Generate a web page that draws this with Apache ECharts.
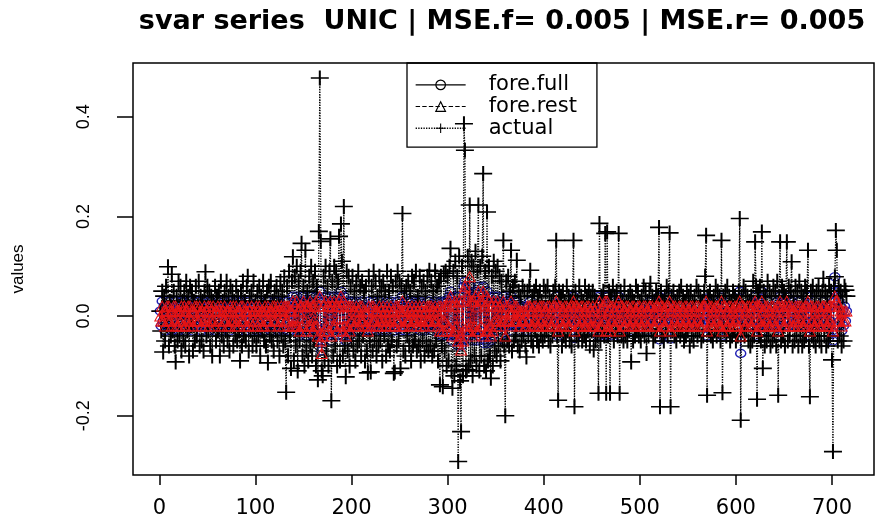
<!DOCTYPE html>
<html>
<head>
<meta charset="utf-8">
<script src="https://cdn.jsdelivr.net/npm/echarts@6/dist/echarts.min.js"></script>
<style>html,body{margin:0;padding:0;background:#fff}#c{width:875px;height:522px}</style>
</head>
<body>
<div id="c"></div>
<script>
// ---- data (index 1..715) ----
const seriesNames = ['fore.full', 'fore.rest', 'actual'];
const xTicks = [0, 100, 200, 300, 400, 500, 600, 700];
const yTicks = [-0.2, 0.0, 0.2, 0.4];

const actual = [
 .01,-.03,.05,-.072,.04,-.05,.06,-.02,.099,-.06,.03,-.04,.084,-.03,.05,-.06,-.092,.04,-.05,.07,
 -.04,.06,-.07,.03,-.05,.05,-.06,.07,-.03,.04,-.08,.06,-.02,.05,-.07,.03,-.05,.06,-.04,.02,
 .07,-.06,.04,-.05,.03,-.07,.05,.089,-.04,.06,-.03,.05,-.06,.04,-.08,.03,-.02,.06,-.05,.04,
 -.03,.05,-.08,.07,-.04,.03,-.06,.05,-.03,.07,-.05,.04,-.07,.06,-.02,.05,-.06,.03,-.04,.06,
 -.05,.04,-.03,-.09,.05,-.06,.07,-.04,.03,-.05,.06,.08,-.07,.04,-.03,.05,-.06,.07,-.04,.03,
 -.06,.05,-.04,.06,-.08,.04,-.03,.07,-.05,.03,-.06,.05,-.094,.06,-.04,.07,-.05,.03,-.07,.05,
 -.03,.06,-.05,.04,-.08,.07,-.04,.05,-.06,.079,-.05,-.153,.06,-.08,.09,-.04,-.105,.07,.119,-.09,
 .08,-.06,.1,-.11,.07,-.05,.09,.146,-.08,.06,-.1,.132,-.07,.05,-.09,.08,-.06,.1,-.08,.07,
 -.05,.09,-.1,.06,-.128,.17,.478,.15,-.11,-.12,.08,-.09,.1,-.07,.06,-.1,.09,.155,-.17,.07,
 -.08,.1,-.06,.09,-.1,.07,.16,-.09,.185,.11,-.08,.22,-.06,-.122,.09,-.07,.08,-.1,.06,-.05,
 .08,-.07,.05,-.09,.07,-.06,.09,-.05,.06,-.08,.07,-.04,.05,-.09,.06,-.07,-.114,.08,-.05,-.112,
 .06,-.07,.09,-.05,.07,-.08,.04,-.06,.08,-.05,.06,-.09,.07,-.04,.05,-.08,.09,-.06,.05,-.07,
 .08,-.05,.06,-.115,-.112,.07,-.06,.09,-.05,.07,-.105,.06,.206,-.07,.05,-.08,.06,-.04,.07,-.06,
 .05,-.09,.08,-.06,.07,-.05,.09,-.07,.04,-.06,.08,-.09,.06,-.05,.07,-.08,.05,-.06,.08,-.07,
 .092,-.06,.07,-.08,.05,-.07,.09,-.05,.06,-.09,.07,-.138,.08,-.06,-.142,.086,-.07,.09,-.1,.08,
 -.09,.1,.136,-.11,-.145,.09,-.12,.11,-.1,.08,-.292,.12,-.13,-.232,.1,-.12,.386,.333,-.11,-.108,
 .12,-.1,.223,-.09,.11,-.12,.1,-.08,.13,-.1,.09,.223,-.11,.1,-.08,.12,.286,-.1,.09,-.11,
 .209,-.09,.1,-.08,-.125,.08,-.1,.11,-.07,.09,-.08,.1,-.06,.08,-.09,.07,-.05,.152,-.06,-.2,
 .07,-.05,.08,-.06,.05,.132,-.07,.06,-.05,.07,-.04,.112,-.06,.05,-.07,.04,-.05,.06,-.04,.05,
 -.06,-.082,.05,-.04,.06,.092,-.05,.04,-.06,.05,-.03,.06,-.05,.04,-.06,.05,-.04,.03,-.05,.06,
 -.04,.05,-.03,.06,-.05,.04,-.06,.03,-.04,.05,-.03,.06,.152,-.04,-.169,.05,-.03,.04,-.06,.05,
 -.04,.03,-.05,.06,-.03,.04,-.05,.03,-.06,.04,.152,-.182,.05,-.04,.03,-.05,.06,-.03,.04,-.05,
 .03,-.04,.06,-.05,.04,-.03,.05,-.06,.04,-.03,.05,-.068,.04,-.05,.03,-.04,-.155,.186,-.05,.04,
 -.03,.05,-.04,.166,-.155,.169,-.04,.05,-.155,.04,-.03,.06,-.05,.04,-.03,.05,-.04,.166,-.155,.05,
 -.04,.03,-.05,.06,-.04,.03,-.05,.04,-.03,.05,-.092,.04,-.05,.03,-.04,.06,-.03,.05,-.04,.03,
 -.05,.04,-.03,.06,-.04,.05,-.075,.03,-.04,.05,.066,-.03,.04,-.05,.03,-.04,.05,-.03,.04,.178,
 -.182,.05,-.04,.03,-.05,.04,-.03,.06,-.04,.05,.167,-.182,.04,-.03,.05,-.04,.03,-.05,.04,-.03,
 .05,-.04,.06,-.03,.04,-.05,.03,-.04,.05,-.03,.04,-.06,.05,-.04,.03,-.05,.04,-.03,.06,-.04,
 .05,-.03,.04,-.05,.03,-.04,.05,.08,.162,-.159,.04,-.03,.05,-.04,.03,-.05,.04,-.03,.06,-.04,
 .05,-.03,.04,-.05,.152,-.154,.04,-.03,.05,-.04,.06,-.03,.04,-.05,.03,-.04,.05,-.03,.04,-.05,
 .03,-.04,.05,.196,-.209,.04,-.03,.06,-.04,.05,-.03,.04,-.05,.03,-.06,.04,-.05,.07,-.04,.149,
 .06,-.167,.05,-.04,.06,-.05,.169,-.105,.05,-.06,.04,-.05,.07,-.04,.05,-.06,.04,-.05,.06,-.04,
 .05,-.06,.07,-.159,.04,.149,-.05,.06,-.04,.05,-.06,.04,.149,-.05,.06,-.04,.05,.109,-.06,.04,
 -.05,.06,-.04,.05,-.06,.07,-.04,.05,-.06,.04,-.05,.06,-.04,.05,.132,-.06,-.162,.05,-.04,.06,
 -.05,.04,-.06,.05,-.04,.06,-.05,.04,-.06,.05,.076,-.04,.05,-.06,.04,-.05,.06,-.04,.05,-.088,
 -.272,.06,.079,.172,.132,-.05,.06,-.04,.05,-.06,.04,-.05,.06,.052,.04
];

const foreFull = [
 .01,-.02,.03,-.01,.02,-.03,.02,.01,-.02,.03,-.01,.02,-.03,.01,.02,-.02,.03,-.01,.02,-.03,
 .02,-.01,.03,-.02,.01,.03,-.03,.02,-.01,.02,-.02,.03,-.01,.01,-.03,.02,.01,-.02,.03,-.01,
 -.02,.03,.01,-.03,.02,-.01,.03,-.02,.02,-.01,.01,-.03,.03,-.02,.01,.02,-.01,-.03,.02,.01,
 .03,-.02,.01,.02,-.03,.02,-.01,.03,-.02,.01,-.01,.02,-.03,.03,-.02,.01,.02,-.01,-.02,.03,
 -.01,.02,-.03,.01,.03,-.02,.02,-.01,.01,-.03,.02,.03,-.02,.01,-.01,.02,-.03,.02,.01,-.02,
 .02,-.03,.01,.03,-.02,.01,-.01,.02,-.03,.02,.01,-.02,.03,-.01,.02,-.03,.01,.02,-.02,.03,
 -.02,.01,.03,-.03,.02,-.01,.02,.01,-.03,.03,-.02,.02,-.01,.03,-.03,.02,.01,-.02,.04,-.03,
 .03,-.02,.04,-.03,.02,-.04,.03,.02,-.03,.04,-.02,.03,-.04,.02,.03,-.03,.04,-.02,.03,-.04,
 .02,-.03,.04,-.02,-.05,.03,.05,-.04,-.07,-.05,.03,-.04,.04,-.03,.02,-.04,.03,.04,-.05,.03,
 -.03,.04,-.02,.03,-.04,.02,.04,-.03,.05,.03,-.04,.04,-.02,-.05,.03,-.03,.02,-.04,.03,-.02,
 .03,-.02,.02,-.03,.03,-.02,.01,-.03,.02,-.02,.03,-.01,.02,-.03,.01,-.02,-.03,.03,-.01,-.03,
 .02,-.02,.03,-.01,.02,-.03,.01,-.02,.03,-.01,.02,-.03,.02,-.01,.01,-.03,.03,-.02,.02,-.02,
 .03,-.01,.02,-.03,-.03,.02,-.02,.03,-.01,.02,-.03,.02,.04,-.02,.01,-.03,.02,-.01,.03,-.02,
 .02,-.03,.03,-.02,.02,-.01,.03,-.02,.01,-.02,.03,-.03,.02,-.01,.02,-.03,.01,-.02,.03,-.02,
 .03,-.02,.02,-.03,.01,-.02,.03,-.01,.02,-.03,.02,-.04,.03,-.02,-.04,.03,-.02,.03,-.04,.03,
 -.03,.04,.05,-.04,-.05,.03,-.04,.04,-.03,.03,-.06,.04,-.05,-.06,.03,-.05,.06,.07,-.04,-.03,
 .05,-.04,.06,-.03,.04,-.05,.04,-.03,.05,-.05,.03,.06,-.04,.04,-.03,.04,.06,-.055,.03,-.05,
 .05,-.055,.04,-.03,-.05,.03,-.04,.04,-.02,.03,-.03,.04,-.02,.03,-.03,.02,-.02,.04,-.02,-.05,
 .03,-.02,.03,-.02,.02,.04,-.03,.02,-.02,.03,-.01,.03,-.02,.02,-.03,.01,-.02,.02,-.01,.02,
 -.02,-.03,.02,-.01,.02,.03,-.02,.01,-.02,.02,-.01,.02,-.02,.01,-.02,.02,-.01,.01,-.02,.02,
 -.01,.02,-.01,.02,-.02,.01,-.02,.01,-.01,.02,-.01,.02,.04,-.01,-.04,.02,-.01,.01,-.02,.02,
 -.01,.01,-.02,.02,-.01,.01,-.02,.01,-.02,.01,.04,-.045,.02,-.01,.01,-.02,.02,-.01,.01,-.02,
 .01,-.01,.02,-.02,.01,-.01,.02,-.02,.01,-.01,.02,-.03,.01,-.02,.01,-.01,-.04,.04,-.02,.01,
 -.01,.02,-.01,.04,-.04,.04,-.01,.02,-.04,.01,-.01,.02,-.02,.01,-.01,.02,-.01,.04,-.04,.02,
 -.01,.01,-.02,.02,-.01,.01,-.02,.01,-.01,.02,-.03,.01,-.02,.01,-.01,.02,-.01,.02,-.01,.01,
 -.02,.01,-.01,.02,-.01,.02,-.03,.01,-.01,.02,.03,-.01,.01,-.02,.01,-.01,.02,-.01,.01,.04,
 -.048,.02,-.01,.01,-.02,.01,-.01,.02,-.01,.02,.04,-.046,.01,-.01,.02,-.01,.01,-.02,.01,-.01,
 .02,-.01,.02,-.01,.01,-.02,.01,-.01,.02,-.01,.01,-.02,.02,-.01,.01,-.02,.01,-.01,.02,-.01,
 .02,-.01,.01,-.02,.01,-.01,.02,.03,.036,-.04,.01,-.01,.02,-.01,.01,-.02,.01,-.01,.02,-.01,
 .02,-.01,.01,-.02,.038,-.04,.01,-.01,.02,-.01,.02,-.01,.01,-.02,.01,-.01,.02,-.01,.01,-.02,
 .01,-.01,.02,.05,-.075,.01,-.01,.02,-.01,.02,-.01,.01,-.02,.01,-.02,.01,-.02,.03,-.01,.04,
 .02,-.04,.02,-.01,.02,-.02,.05,-.03,.02,-.02,.01,-.02,.03,-.01,.02,-.02,.01,-.02,.02,-.01,
 .02,-.02,.03,-.04,.01,.04,-.02,.02,-.01,.02,-.02,.01,.04,-.02,.02,-.01,.02,.03,-.02,.01,
 -.02,.02,-.01,.02,-.02,.03,-.01,.02,-.02,.01,-.02,.02,-.01,.02,.04,-.02,-.04,.02,-.01,.02,
 -.02,.01,-.02,.02,-.01,.02,-.02,.01,-.02,.02,.03,-.01,.02,-.02,.01,-.02,.02,-.01,.02,-.03,
 -.05,.03,.079,.05,.04,-.02,.03,-.01,.02,-.03,.01,-.02,.02,-.01,.01
];

const foreRest = [
 .0,-.01,.02,-.01,.01,-.02,.01,.02,-.01,.02,-.01,.01,-.02,.01,.02,-.01,.02,-.02,.01,-.02,
 .01,-.01,.02,-.02,.01,.02,-.02,.01,-.01,.02,-.02,.02,-.01,.01,-.02,.01,.02,-.01,.02,-.01,
 -.01,.02,.01,-.02,.01,-.01,.02,-.02,.01,-.01,.02,-.02,.02,-.01,.01,.02,-.01,-.02,.01,.01,
 .02,-.01,.01,.02,-.02,.01,-.01,.02,-.01,.01,-.02,.01,-.02,.02,-.01,.01,.02,-.01,-.02,.02,
 -.01,.01,-.02,.01,.02,-.01,.02,-.01,.01,-.02,.01,.02,-.02,.01,-.01,.02,-.02,.01,.01,-.01,
 .02,-.02,.01,.02,-.01,.01,-.02,.01,-.02,.02,.01,-.01,.02,-.01,.01,-.02,.01,.02,-.01,.02,
 -.01,.01,.02,-.02,.01,-.01,.02,.01,-.02,.02,-.01,.02,-.01,.02,-.02,.01,.01,-.02,.03,-.02,
 .02,-.02,.03,-.02,.01,-.03,.02,.02,-.02,.03,-.01,.02,-.03,.02,.02,-.02,.03,-.02,.02,-.03,
 .02,-.02,.03,-.02,-.04,.02,.04,-.05,-.075,-.04,.02,-.03,.03,-.02,.02,-.03,.02,.03,-.04,.02,
 -.02,.03,-.02,.02,-.03,.02,.03,-.02,.04,.02,-.03,.03,-.02,-.04,.02,-.02,.02,-.03,.02,-.01,
 .02,-.02,.01,-.02,.02,-.01,.01,-.02,.02,-.01,.02,-.01,.01,-.02,.01,-.02,-.03,.02,-.01,-.02,
 .02,-.01,.02,-.01,.01,-.02,.01,-.02,.02,-.01,.01,-.02,.02,-.01,.01,-.02,.02,-.01,.01,-.02,
 .02,-.01,.01,-.02,-.02,.02,-.01,.02,-.01,.01,-.02,.01,.03,-.02,.01,-.02,.01,-.01,.02,-.01,
 .01,-.02,.02,-.01,.01,-.01,.02,-.02,.01,-.01,.02,-.02,.01,-.01,.02,-.02,.01,-.01,.02,-.01,
 .02,-.01,.02,-.02,.01,-.01,.02,-.01,.01,-.02,.02,-.03,.02,-.01,-.03,.02,-.01,.02,-.03,.02,
 -.02,.03,.04,-.03,-.04,.02,-.03,.03,-.02,.02,-.05,.03,-.04,-.068,.03,-.05,.05,.06,-.03,-.02,
 .04,-.03,.079,-.02,.03,-.04,.03,-.02,.04,-.03,.02,.05,-.03,.03,-.02,.03,.05,-.04,.02,-.03,
 .04,-.03,.03,-.02,-.04,.02,-.03,.03,-.01,.02,-.02,.03,-.01,.02,-.02,.01,-.01,.03,-.01,-.04,
 .02,-.01,.02,-.01,.01,.03,-.02,.01,-.01,.02,-.01,.02,-.01,.01,-.02,.01,-.01,.01,-.01,.01,
 -.02,-.02,.02,-.01,.02,.02,-.02,.01,-.02,.02,-.01,.02,-.02,.01,-.02,.02,-.01,.02,-.02,.02,
 -.02,.01,-.02,.02,-.01,.02,-.02,.01,-.02,.02,-.01,.02,.03,-.02,-.03,.02,-.01,.02,-.02,.01,
 -.02,.02,-.01,.02,-.02,.01,-.02,.02,-.01,.02,.03,-.03,.02,-.01,.02,-.02,.01,-.02,.02,-.01,
 .02,-.02,.01,-.02,.02,-.01,.02,-.02,.01,-.02,.02,-.02,.01,-.02,.02,-.01,-.03,.03,-.02,.01,
 -.02,.02,-.01,.03,-.03,.03,-.02,.01,-.03,.02,-.01,.02,-.02,.01,-.02,.02,-.01,.03,-.03,.02,
 -.01,.02,-.02,.01,-.02,.02,-.01,.02,-.02,.01,-.02,.02,-.01,.02,-.02,.01,-.02,.02,-.01,.02,
 -.02,.01,-.02,.02,-.01,.02,-.02,.01,-.02,.02,.02,-.01,.02,-.02,.01,-.02,.02,-.01,.02,.03,
 -.03,.02,-.01,.02,-.02,.01,-.02,.02,-.01,.02,.03,-.03,.01,-.02,.02,-.01,.02,-.02,.01,-.02,
 .02,-.01,.02,-.02,.01,-.02,.02,-.01,.02,-.02,.01,-.02,.02,-.01,.02,-.02,.01,-.02,.02,-.01,
 .02,-.02,.01,-.02,.02,-.01,.02,.02,.03,-.03,.01,-.02,.02,-.01,.02,-.02,.01,-.02,.02,-.01,
 .02,-.02,.01,-.02,.03,-.03,.02,-.01,.02,-.02,.01,-.02,.02,-.01,.02,-.02,.01,-.02,.02,-.01,
 .02,-.02,.01,.03,-.04,.02,-.01,.02,-.02,.01,-.02,.02,-.01,.02,-.02,.01,-.02,.02,-.01,.03,
 .02,-.03,.02,-.01,.02,-.02,.03,-.02,.01,-.02,.02,-.01,.02,-.02,.01,-.02,.02,-.01,.02,-.02,
 .01,-.02,.02,-.03,.02,.03,-.01,.02,-.02,.01,-.02,.02,.03,-.01,.02,-.02,.01,.02,-.02,.01,
 -.02,.02,-.01,.02,-.02,.02,-.01,.02,-.02,.01,-.02,.02,-.01,.02,.03,-.02,-.03,.02,-.01,.02,
 -.02,.01,-.02,.02,-.01,.02,-.02,.01,-.02,.02,.02,-.01,.02,-.02,.01,-.02,.02,-.01,.02,-.02,
 -.03,.02,.04,.03,.03,-.01,.02,-.01,.01,-.02,.01,-.01,.01,-.01,.01
];

// ---- chart ----
const pairs = arr => arr.map((v, i) => [i + 1, v]);
const plusPath = 'path://M0,6.7H18V8.3H0Z M8,0H10V15H8Z';
const chart = echarts.init(document.getElementById('c'), null, {renderer: 'canvas'});
chart.setOption({
  animation: false,
  backgroundColor: '#fff',
  title: {
    text: 'svar series  UNIC | MSE.f= 0.005 | MSE.r= 0.005',
    left: 502, top: 8, textAlign: 'center', padding: 0,
    textStyle: {fontFamily: 'DejaVu Sans', fontWeight: 'bold', fontSize: 27, color: '#000'}
  },
  legend: {
    data: [
      {name: 'fore.full', itemStyle: {color: 'rgba(0,0,0,0)', borderColor: '#000', borderWidth: 1.2}, lineStyle: {color: '#000', type: 'solid', width: 1.1}},
      {name: 'fore.rest', itemStyle: {color: 'rgba(0,0,0,0)', borderColor: '#000', borderWidth: 1.2}, lineStyle: {color: '#000', type: 'dashed', width: 1.1}},
      {name: 'actual', itemStyle: {color: '#000'}, lineStyle: {color: '#000', type: 'dotted', width: 1.3}}
    ],
    orient: 'vertical',
    left: 407, top: 63,
    padding: [11, 20, 8, 8],
    itemWidth: 50, itemHeight: 12, itemGap: 0,
    borderColor: '#000', borderWidth: 1.3, borderRadius: 0,
    backgroundColor: 'transparent',
    textStyle: {fontFamily: 'DejaVu Sans', fontSize: 21, lineHeight: 21.7, color: '#000', padding: [0, 0, 0, 18]}
  },
  grid: {left: 133, right: 1, top: 63, bottom: 47, show: true, borderColor: '#000', borderWidth: 1.5, containLabel: false},
  xAxis: {
    type: 'value', min: -27.4, max: 743.7,
    axisLine: {show: false, onZero: false},
    splitLine: {show: false},
    axisTick: {show: true, length: 10, lineStyle: {color: '#000', width: 1.5}, customValues: xTicks},
    axisLabel: {customValues: xTicks, margin: 23, fontFamily: 'DejaVu Sans', fontSize: 21, color: '#000'}
  },
  yAxis: {
    type: 'value', min: -0.319, max: 0.508,
    name: 'values', nameLocation: 'middle', nameGap: 106, nameRotate: 90,
    nameTextStyle: {fontFamily: 'Liberation Sans', fontSize: 17, color: '#000'},
    axisLine: {show: false, onZero: false},
    splitLine: {show: false},
    axisTick: {show: true, length: 16, lineStyle: {color: '#000', width: 1.5}, customValues: yTicks},
    axisLabel: {customValues: yTicks, rotate: 90, margin: 40, fontFamily: 'Liberation Sans', fontSize: 18, color: '#000',
      formatter: v => v.toFixed(1)}
  },
  series: [
    {
      name: 'fore.full', type: 'line', data: pairs(foreFull), z: 2,
      showAllSymbol: true, sampling: null,
      symbol: 'circle', symbolSize: [10, 8],
      itemStyle: {color: 'rgba(0,0,0,0)', borderColor: '#1f1fb4', borderWidth: 1.3},
      lineStyle: {color: '#1f1fb4', width: 1.1, type: 'solid'}
    },
    {
      name: 'fore.rest', type: 'line', data: pairs(foreRest), z: 4,
      showAllSymbol: true, sampling: null,
      symbol: 'triangle', symbolSize: [11, 10],
      itemStyle: {color: 'rgba(0,0,0,0)', borderColor: '#e81414', borderWidth: 1.0},
      lineStyle: {color: '#e81414', width: 0.9, type: 'dashed'}
    },
    {
      name: 'actual', type: 'line', data: pairs(actual), z: 3,
      showAllSymbol: true, sampling: null,
      symbol: plusPath, symbolSize: [18, 15],
      itemStyle: {color: '#000'},
      lineStyle: {color: '#000', width: 1.3, type: 'dotted'}
    }
  ]
});
</script>
</body>
</html>
